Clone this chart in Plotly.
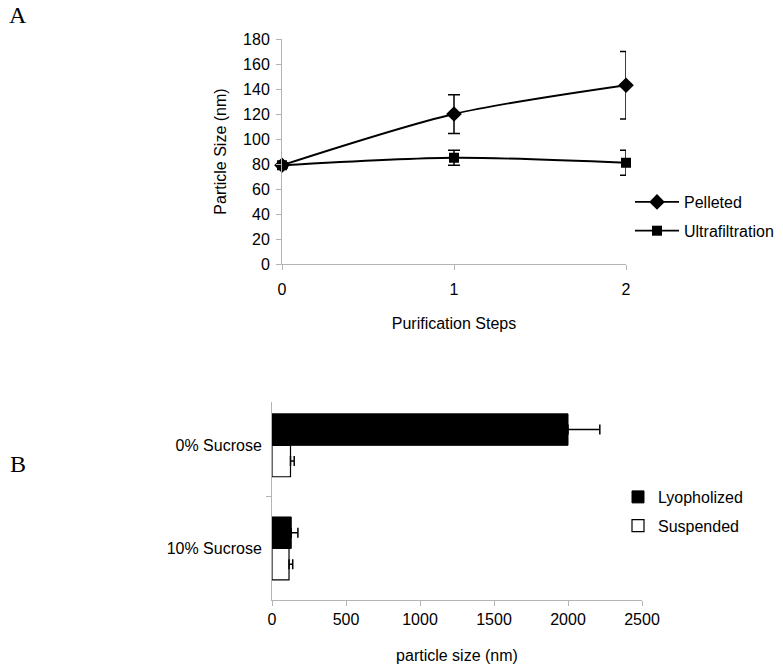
import plotly.graph_objects as go

W, H = 783, 672

# Panel A: particle size vs purification steps
steps = [0, 1, 2]
pelleted = [79, 120, 143]
pelleted_err = [2, 15.5, 27]
ultra = [79, 85, 81]
ultra_err = [2, 6, 10]

# Panel B: particle size by sucrose content
formulations = ["0% Sucrose", "10% Sucrose"]
lyopholized = [2000, 130]
lyopholized_err = [215, 45]
suspended = [125, 115]
suspended_err = [25, 25]

FONT = "Liberation Sans, Arial, sans-serif"
SERIF = "Liberation Serif, Times New Roman, serif"
AXIS_GREY = "#b3b3b3"
FS = 16


def px_x(p):
    return p / W


def px_y(p):
    return 1 - p / H


fig = go.Figure()

err_style = dict(type="data", color="black", thickness=1.5, width=6)

fig.add_trace(go.Scatter(
    x=steps, y=pelleted, name="Pelleted", mode="lines+markers",
    line=dict(color="black", width=1.8, shape="spline", smoothing=0.8),
    marker=dict(symbol="diamond", size=12, color="black"),
    error_y=dict(array=pelleted_err, **err_style),
    cliponaxis=False, legend="legend", legendgroup="p",
    xaxis="x", yaxis="y",
))
fig.add_trace(go.Scatter(
    x=steps, y=ultra, name="Ultrafiltration", mode="lines+markers",
    line=dict(color="black", width=1.8, shape="spline", smoothing=0.8),
    marker=dict(symbol="square", size=10, color="black"),
    error_y=dict(array=ultra_err, **err_style),
    cliponaxis=False, legend="legend", legendgroup="u",
    xaxis="x", yaxis="y",
))

bar_err = dict(type="data", symmetric=False, color="black", thickness=1.5, width=5)

fig.add_trace(go.Bar(
    y=formulations, x=lyopholized, name="Lyopholized", orientation="h",
    marker=dict(color="black", line=dict(color="black", width=1)),
    error_x=dict(array=lyopholized_err, arrayminus=[0, 0], **bar_err),
    legend="legend2", legendgroup="l",
    xaxis="x2", yaxis="y2",
))
fig.add_trace(go.Bar(
    y=formulations, x=suspended, name="Suspended", orientation="h",
    marker=dict(color="white", line=dict(color="black", width=1.2)),
    error_x=dict(array=suspended_err, arrayminus=[0, 0], **bar_err),
    legend="legend2", legendgroup="s",
    xaxis="x2", yaxis="y2",
))

axis_common = dict(
    showline=True, linecolor=AXIS_GREY, linewidth=1,
    ticks="outside", tickcolor=AXIS_GREY, ticklen=5,
    showgrid=False, zeroline=False, automargin=False,
    tickfont=dict(family=FONT, size=FS, color="black"),
)

fig.update_layout(
    width=W, height=H,
    margin=dict(l=0, r=0, t=0, b=0),
    paper_bgcolor="white", plot_bgcolor="white",
    font=dict(family=FONT, size=FS, color="black"),
    bargap=0.39, barmode="group",
    xaxis=dict(
        domain=[px_x(282), px_x(626)], range=[0, 2], tickvals=[0, 1, 2],
        anchor="y", ticklabelstandoff=6,
        title=dict(text="Purification Steps", font=dict(size=FS), standoff=20),
        **axis_common,
    ),
    yaxis=dict(
        domain=[px_y(264), px_y(39)], range=[0, 180], dtick=20,
        anchor="x", ticklabelstandoff=3,
        title=dict(text="Particle Size (nm)", font=dict(size=FS), standoff=12),
        **axis_common,
    ),
    xaxis2=dict(
        domain=[px_x(272), px_x(642)], range=[0, 2500], dtick=500,
        anchor="y2",
        title=dict(text="particle size (nm)", font=dict(size=FS), standoff=22),
        **axis_common,
    ),
    yaxis2=dict(
        domain=[px_y(600), px_y(402)], range=[1.5, -0.42],
        anchor="x2", tickson="boundaries", ticklabelstandoff=6,
        **axis_common,
    ),
    legend=dict(
        x=px_x(630), y=px_y(185), xanchor="left", yanchor="top",
        font=dict(family=FONT, size=FS), tracegroupgap=5, itemwidth=44,
        traceorder="grouped", bgcolor="rgba(0,0,0,0)",
    ),
    legend2=dict(
        x=px_x(618), y=px_y(480), xanchor="left", yanchor="top",
        font=dict(family=FONT, size=FS), tracegroupgap=5,
        traceorder="grouped", bgcolor="rgba(0,0,0,0)",
    ),
    annotations=[
        dict(text="A", x=px_x(7), y=px_y(15), xref="paper", yref="paper",
             xanchor="left", yanchor="middle", showarrow=False,
             font=dict(family=SERIF, size=24)),
        dict(text="B", x=px_x(8), y=px_y(464), xref="paper", yref="paper",
             xanchor="left", yanchor="middle", showarrow=False,
             font=dict(family=SERIF, size=24)),
    ],
)

fig.write_html(
    "out.html",
    config={"displayModeBar": False},
    post_script="document.body.style.margin='0';document.body.style.overflow='hidden';",
)
